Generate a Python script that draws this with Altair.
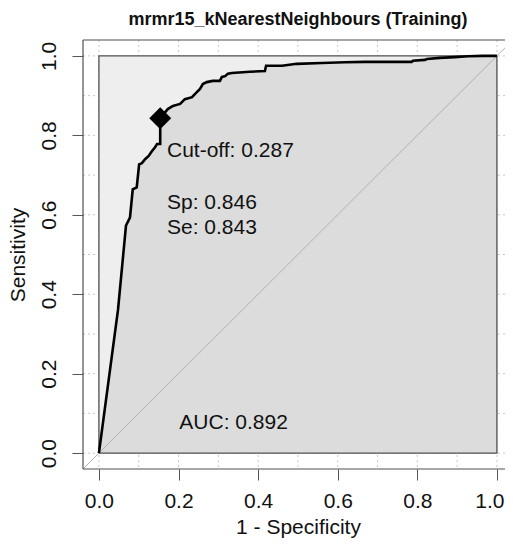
import altair as alt
import pandas as pd

# ROC curve (1 - specificity, sensitivity)
fpr = [0.0, 0.048, 0.068, 0.078, 0.085, 0.095, 0.101, 0.108, 0.116, 0.125, 0.133, 0.141,
       0.146, 0.154, 0.154, 0.173, 0.186, 0.204, 0.216, 0.234, 0.241, 0.254, 0.261, 0.271,
       0.286, 0.304, 0.309, 0.317, 0.324, 0.334, 0.379, 0.417, 0.420, 0.460, 0.497, 0.560,
       0.618, 0.668, 0.786, 0.789, 0.819, 0.824, 0.857, 0.894, 0.927, 0.965, 1.0]
tpr = [0.0, 0.361, 0.573, 0.593, 0.664, 0.669, 0.727, 0.730, 0.740, 0.748, 0.760, 0.770,
       0.778, 0.778, 0.843, 0.866, 0.874, 0.879, 0.891, 0.896, 0.904, 0.917, 0.929, 0.934,
       0.937, 0.937, 0.947, 0.949, 0.955, 0.957, 0.960, 0.962, 0.975, 0.975, 0.980, 0.982,
       0.984, 0.985, 0.985, 0.988, 0.990, 0.992, 0.995, 0.997, 0.999, 1.0, 1.0]

threshold_sp = 0.846
threshold_se = 0.843

grid_values = [0.0, 0.1, 0.2, 0.3, 0.4, 0.5, 0.6, 0.7, 0.8, 0.9, 1.0]
tick_values = [0.0, 0.2, 0.4, 0.6, 0.8, 1.0]
x_domain = [-0.04, 1.0203]   # right part of the frame runs off the picture
y_domain = [-0.04, 1.04]
diag_ends = [-0.04, 1.04]

labels = ["Cut-off: 0.287", "Sp: 0.846", "Se: 0.843", "AUC: 0.892"]
label_x = [0.171, 0.171, 0.171, 0.202]
label_y = [0.745, 0.614, 0.551, 0.060]

title_text = "mrmr15_kNearestNeighbours (Training)"

FONT = "Liberation Sans"
W, H = 422, 429

roc = pd.DataFrame({"fpr": fpr, "tpr": tpr, "zero": [0.0] * len(fpr),
                    "idx": list(range(len(fpr)))})
grid = pd.DataFrame({"v": grid_values})
box = pd.DataFrame({"x": [0.0], "x2": [1.0], "y": [0.0], "y2": [1.0]})
diag = pd.DataFrame({"x": diag_ends, "y": diag_ends})
pt = pd.DataFrame({"x": [1 - threshold_sp], "y": [threshold_se]})
txt = pd.DataFrame({"label": labels, "x": label_x, "y": label_y})
ttl = pd.DataFrame({"label": [title_text]})
frame_h = pd.DataFrame({"y": y_domain})
frame_v = pd.DataFrame({"x": [x_domain[0]]})

xs = alt.Scale(domain=x_domain, nice=False, zero=False)
ys = alt.Scale(domain=y_domain, nice=False, zero=False)

x_axis = alt.Axis(values=tick_values, format=".1f", grid=False, domain=False,
                  tickSize=11, tickColor="#555555", labelFont=FONT, labelFontSize=21,
                  labelColor="#111111", labelBaseline="alphabetic", labelPadding=27,
                  labelFlush=10, labelFlushOffset=7,
                  title="1 - Specificity", titleFont=FONT, titleFontSize=21,
                  titleFontWeight="normal", titleColor="#111111",
                  titleBaseline="alphabetic", titleX=215, titleY=64, titleAlign="center")
y_axis = alt.Axis(values=tick_values, format=".1f", grid=False, domain=False,
                  tickSize=11, tickColor="#555555", labelFont=FONT, labelFontSize=21,
                  labelColor="#111111", labelAngle=-90, labelAlign="center",
                  labelBaseline="alphabetic", labelPadding=17, labelFlush=False,
                  title="Sensitivity", titleFont=FONT, titleFontSize=21,
                  titleFontWeight="normal", titleColor="#111111", titleAngle=-90,
                  titleBaseline="alphabetic", titleX=-59, titleY=H / 2, titleAlign="center")


def X(field):
    return alt.X(field, scale=xs, axis=x_axis)


def Y(field, **kw):
    return alt.Y(field, scale=ys, axis=y_axis, **kw)


vgrid = alt.Chart(grid).mark_rule(color="#c8c8c8", strokeDash=[2, 3], strokeWidth=1).encode(
    x=X("v:Q"))
hgrid = alt.Chart(grid).mark_rule(color="#c8c8c8", strokeDash=[2, 3], strokeWidth=1).encode(
    y=Y("v:Q"))

max_fill = alt.Chart(box).mark_rect(fill="#EEEEEE").encode(
    x=X("x:Q"), x2="x2:Q", y=Y("y:Q"), y2="y2:Q")

auc_fill = alt.Chart(roc).mark_area(color="#DCDCDC", opacity=1).encode(
    x=X("fpr:Q"), y=Y("tpr:Q", stack=None), y2="zero:Q")

box_border = alt.Chart(box).mark_rect(fillOpacity=0, stroke="#505050", strokeWidth=1.3).encode(
    x=X("x:Q"), x2="x2:Q", y=Y("y:Q"), y2="y2:Q")

identity = alt.Chart(diag).mark_line(color="#b0b0b0", strokeWidth=1, clip=True).encode(
    x=X("x:Q"), y=Y("y:Q"))

frame_lines_h = alt.Chart(frame_h).mark_rule(color="#505050", strokeWidth=1.2).encode(
    y=Y("y:Q"))
frame_lines_v = alt.Chart(frame_v).mark_rule(color="#505050", strokeWidth=1.2).encode(
    x=X("x:Q"))

curve = alt.Chart(roc).mark_line(color="black", strokeWidth=2.6).encode(
    x=X("fpr:Q"), y=Y("tpr:Q"), order="idx:Q")

thr = alt.Chart(pt).mark_point(shape="diamond", filled=True, color="black", size=480,
                               opacity=1).encode(x=X("x:Q"), y=Y("y:Q"))

texts = alt.Chart(txt).mark_text(font=FONT, fontSize=21, align="left", baseline="alphabetic",
                                 color="#111111").encode(
    x=X("x:Q"), y=Y("y:Q"), text="label:N")

title = alt.Chart(ttl).mark_text(font=FONT, fontSize=18, fontWeight="bold", align="center",
                                 baseline="alphabetic", color="#111111").encode(
    x=alt.value(215), y=alt.value(-15), text="label:N")

chart = alt.layer(
    vgrid, hgrid, max_fill, auc_fill, box_border, identity, frame_lines_h, frame_lines_v,
    curve, thr, texts, title
).properties(
    width=W, height=H,
    autosize=alt.AutoSizeParams(type="none"),
    padding={"left": 75, "top": 32, "right": 0, "bottom": 69},
).configure_view(strokeWidth=0, stroke=None)

chart.save("out.html", embed_options={"renderer": "svg", "actions": False})
